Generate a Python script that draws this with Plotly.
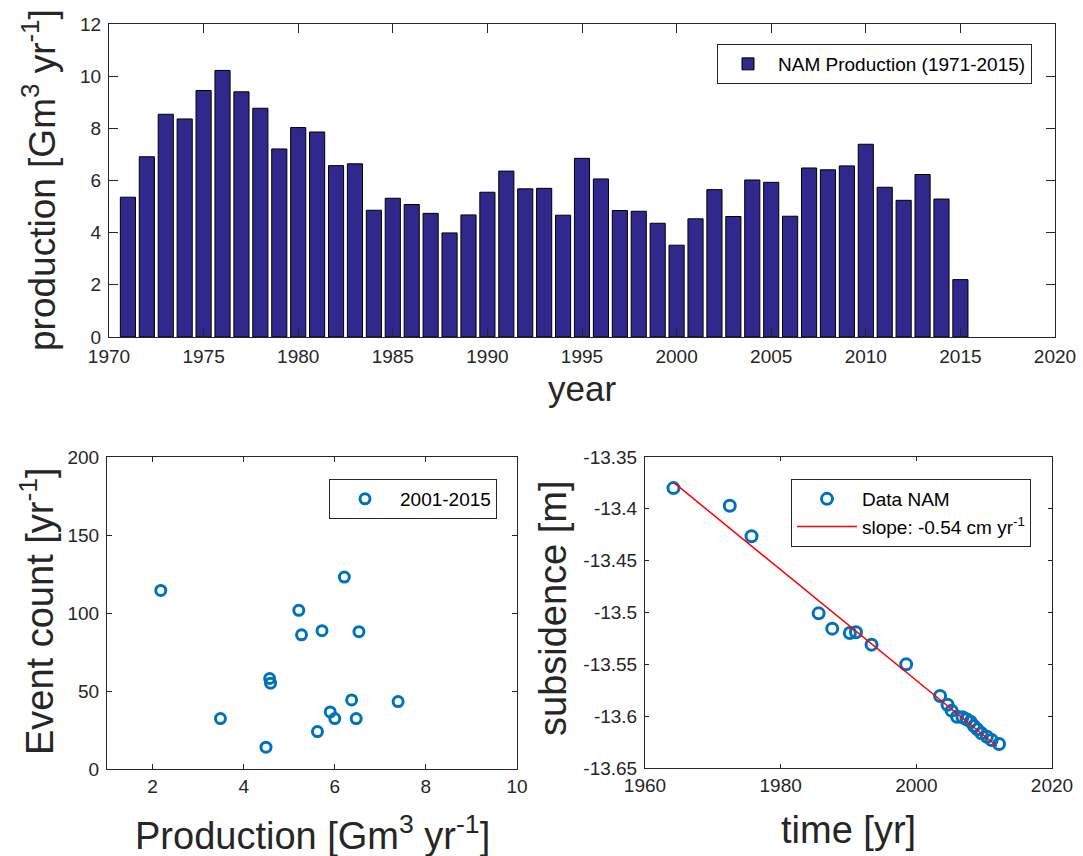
import plotly.graph_objects as go

# ---------------- data ----------------
years = list(range(1971, 2016))
production = [5.36, 6.91, 8.54, 8.36, 9.45, 10.22, 9.40, 8.77, 7.21, 8.03,
              7.86, 6.57, 6.64, 4.86, 5.32, 5.08, 4.74, 3.99, 4.68, 5.55,
              6.36, 5.68, 5.70, 4.67, 6.85, 6.06, 4.85, 4.82, 4.36, 3.52,
              4.53, 5.65, 4.62, 6.02, 5.93, 4.63, 6.48, 6.41, 6.56, 7.39,
              5.74, 5.24, 6.23, 5.29, 2.20]

scatter_production = [2.18, 3.49, 4.49, 4.57, 4.59, 5.21, 5.27, 5.62,
                      5.72, 5.90, 6.00, 6.21, 6.37, 6.47, 6.53, 7.39]
event_count = [114.5, 32.3, 14, 58, 55, 101.7, 86, 24,
               88.7, 36.6, 32.3, 123, 44.3, 32.3, 88, 43.2]

sub_time = [1964.2, 1972.5, 1975.7, 1985.6, 1987.6, 1990.2, 1991.1, 1993.4,
            1998.5, 2003.5, 2004.6, 2005.2, 2006.0, 2006.8, 2007.4, 2008.0,
            2008.5, 2009.0, 2009.6, 2010.4, 2011.1, 2012.2]
sub_val = [-13.380, -13.397, -13.4265, -13.5008, -13.5156, -13.5198, -13.519,
           -13.531, -13.550, -13.5805, -13.589, -13.5947, -13.6005, -13.601,
           -13.603, -13.6053, -13.6095, -13.6127, -13.6165, -13.6198, -13.623,
           -13.6268]
fit_time = [1964.3, 2011.9]
fit_val = [-13.375, -13.629]

top_xticks = [1970, 1975, 1980, 1985, 1990, 1995, 2000, 2005, 2010, 2015, 2020]
top_yticks = [0, 2, 4, 6, 8, 10, 12]
bl_xticks = [2, 4, 6, 8, 10]
bl_yticks = [0, 50, 100, 150, 200]
br_xticks = [1960, 1980, 2000, 2020]
br_yticks = [-13.65, -13.6, -13.55, -13.5, -13.45, -13.4, -13.35]
br_yticklabels = ["-13.65", "-13.6", "-13.55", "-13.5", "-13.45", "-13.4", "-13.35"]

# ---------------- figure ----------------
W, H = 1083, 856
FONT = "Liberation Sans, Arial, Helvetica, sans-serif"
TXT = "#262626"
BLUE = "#0072BD"

def px_x(a, b):
    return [a / W, b / W]

def px_y(top, bottom):
    return [(H - bottom) / H, (H - top) / H]

fig = go.Figure()

fig.add_trace(go.Bar(
    x=years, y=production, name="NAM Production (1971-2015)",
    marker=dict(color="#30288c", line=dict(color="black", width=1)),
    width=0.8, xaxis="x", yaxis="y", legend="legend",
))

fig.add_trace(go.Scatter(
    x=scatter_production, y=event_count, mode="markers", name="2001-2015",
    marker=dict(symbol="circle-open", size=10, color=BLUE,
                line=dict(color=BLUE, width=3)),
    xaxis="x2", yaxis="y2", legend="legend2",
))

fig.add_trace(go.Scatter(
    x=sub_time, y=sub_val, mode="markers", name="Data NAM",
    marker=dict(symbol="circle-open", size=11, color=BLUE,
                line=dict(color=BLUE, width=3)),
    xaxis="x3", yaxis="y3", legend="legend3",
))
fig.add_trace(go.Scatter(
    x=fit_time, y=fit_val, mode="lines", name="slope: -0.54 cm yr<sup>-1</sup>",
    line=dict(color="#ff0000", width=1.5),
    xaxis="x3", yaxis="y3", legend="legend3",
))

axis_common = dict(
    showgrid=False, zeroline=False, showline=True, linecolor=TXT, linewidth=1,
    mirror="ticks", ticks="inside", tickcolor=TXT, tickwidth=1, automargin=False,
    tickfont=dict(family=FONT, size=19, color=TXT),
)

legend_common = dict(xanchor="right", yanchor="top", bgcolor="white",
                     bordercolor=TXT, borderwidth=1,
                     font=dict(family=FONT, size=19, color="black"))

fig.update_layout(
    width=W, height=H,
    margin=dict(l=0, r=0, t=0, b=0, autoexpand=False),
    paper_bgcolor="white", plot_bgcolor="white",
    font=dict(family=FONT, color=TXT),
    bargap=0.2,
    xaxis=dict(axis_common, domain=px_x(109, 1055), range=[1970, 2020],
               tickvals=top_xticks, ticklen=9, anchor="y", ticklabelstandoff=2),
    yaxis=dict(axis_common, domain=px_y(24, 337), range=[0, 12],
               tickvals=top_yticks, ticklen=9, anchor="x", ticklabelstandoff=3),
    xaxis2=dict(axis_common, domain=px_x(107, 517), range=[1, 10],
                tickvals=bl_xticks, ticklen=5, anchor="y2", ticklabelstandoff=0),
    yaxis2=dict(axis_common, domain=px_y(457, 769), range=[0, 200],
                tickvals=bl_yticks, ticklen=5, anchor="x2", ticklabelstandoff=3),
    xaxis3=dict(axis_common, domain=px_x(645, 1052), range=[1960, 2020],
                tickvals=br_xticks, ticklen=4, anchor="y3", ticklabelstandoff=0),
    yaxis3=dict(axis_common, domain=px_y(457, 768), range=[-13.65, -13.35],
                tickvals=br_yticks, ticktext=br_yticklabels, ticklen=4,
                anchor="x3", ticklabelstandoff=3),
    legend=dict(legend_common, x=1032 / W, y=(H - 44) / H, itemwidth=50),
    legend2=dict(legend_common, x=497 / W, y=(H - 479) / H, itemwidth=60),
    legend3=dict(legend_common, x=1031 / W, y=(H - 479) / H, itemwidth=60),
    showlegend=True,
)

def title(text, x, y, size, angle=0):
    fig.add_annotation(text=text, x=x / W, y=(H - y) / H, xref="paper", yref="paper",
                       xanchor="center", yanchor="middle", showarrow=False,
                       textangle=angle, font=dict(family=FONT, size=size, color=TXT))

title("production [Gm<sup>3</sup> yr<sup>-1</sup>]", 40, 180, 37, -90)
title("year", 582, 389, 35)
title("Event count [yr<sup>-1</sup>]", 37, 611, 38, -90)
title("Production [Gm<sup>3</sup> yr<sup>-1</sup>]", 312, 833, 38)
title("subsidence [m]", 553, 608, 38, -90)
title("time [yr]", 848, 830, 38)

fig.write_html("out.html")
